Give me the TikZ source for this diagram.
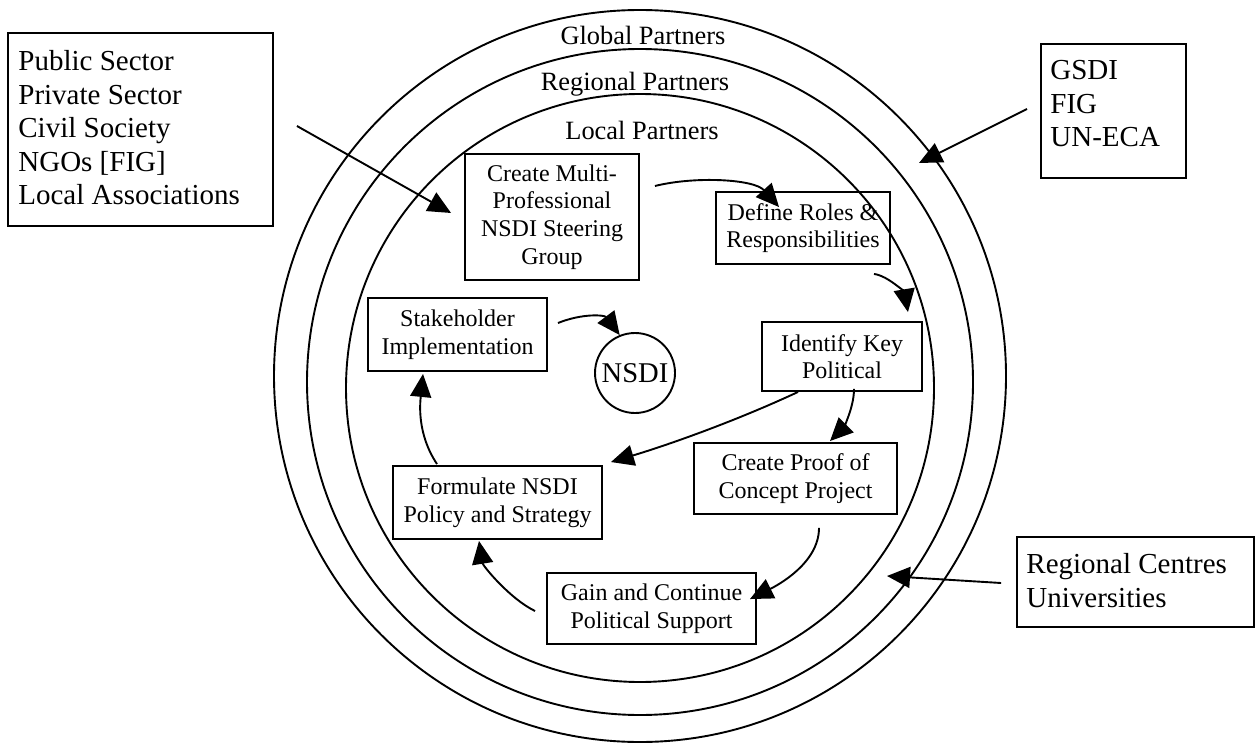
\documentclass[tikz,border=0pt]{standalone}
\usepackage{fontspec}
\setmainfont{Liberation Serif}
\usetikzlibrary{arrows.meta}
\newcommand\fbig{\fontsize{14.5pt}{16.75pt}\selectfont}
\newcommand\fsmall{\fontsize{12pt}{13.8pt}\selectfont}
\newcommand\fmid{\fontsize{13.2pt}{15pt}\selectfont}
\newcommand\fnsdi{\fontsize{14.3pt}{16pt}\selectfont}
\begin{document}
\begin{tikzpicture}[x=0.5pt,y=-0.5pt,
  every node/.style={inner sep=0pt},
  ring/.style={line width=0.95pt},
  frame/.style={draw, line width=0.95pt, rectangle},
  stepbox/.style={draw, line width=0.95pt, rectangle, align=center, font=\fsmall},
  link/.style={line width=0.95pt, -{Triangle[length=11.5pt,width=10.5pt]}},
  listtext/.style={align=left, font=\fbig, anchor=north west},
  ringlabel/.style={font=\fmid}]
\fill[white] (0,0) rectangle (1256,743);
\useasboundingbox (0,0) rectangle (1256,743);

% partner rings
\draw[ring] (640,376) circle[radius=183pt];
\draw[ring] (640,382) circle[radius=166.5pt];
\draw[ring] (640,388) circle[radius=147pt];
\node[ringlabel] (glob) at (643,35) {Global Partners};
\node[ringlabel] (reg) at (635,84) {Regional Partners};
\node[ringlabel] (loc) at (642,130) {Local Partners};

% process steps
\node[stepbox, minimum width=87pt, minimum height=63pt] (create) at (552,217) {Create Multi-\\Professional\\NSDI Steering\\Group};
\node[stepbox, minimum width=87pt, minimum height=36pt] (define) at (803,228) {Define Roles \&\\Responsibilities};
\node[stepbox, minimum width=80pt, minimum height=34.5pt] (identify) at (842,356.5) {Identify Key\\Political};
\node[stepbox, minimum width=101.5pt, minimum height=35.5pt] (proof) at (795.5,478.5) {Create Proof of\\Concept Project};
\node[stepbox, minimum width=89.5pt, minimum height=36.5pt] (stake) at (457.5,334.5) {Stakeholder\\Implementation};
\node[circle, draw, line width=0.95pt, minimum size=40pt, font=\fnsdi] (nsdi) at (635,373) {NSDI};
\node[stepbox, minimum width=104.5pt, minimum height=36.5pt] (formulate) at (497.5,502.5) {Formulate NSDI\\Policy and Strategy};
\node[stepbox, minimum width=104.5pt, minimum height=35.5pt] (gain) at (651.5,608.5) {Gain and Continue\\Political Support};

% partner lists
\node[frame, minimum width=132.5pt, minimum height=96.5pt] (sectors) at (140.5,129.5) {};
\node[listtext] (sectorstext) at (18,50) {Public Sector\\Private Sector\\Civil Society\\NGOs [FIG]\\Local Associations};
\node[frame, minimum width=72.5pt, minimum height=67pt] (gsdi) at (1113.5,111) {};
\node[listtext] (gsditext) at (1050,60) {GSDI\\FIG\\UN-ECA};
\node[frame, minimum width=118.5pt, minimum height=45pt] (centres) at (1135.5,582) {};
\node[listtext] (centrestext) at (1026,553) {Regional Centres\\Universities};

\coordinate (gtip) at (919,163);
\coordinate (rtip) at (887,576);

% partner arrows
\draw[link] ([xshift=11.5pt,yshift=1.75pt]sectors.east) -- ([xshift=-6.5pt,yshift=2pt]create.west);
\draw[link] ([xshift=-6.5pt,yshift=1pt]gsdi.west) -- (gtip);
\draw[link] ([xshift=-7.5pt,yshift=-0.5pt]centres.west) -- (rtip);

% process cycle
\draw[link] ([xshift=7.5pt,yshift=15.5pt]create.east) .. controls +(40,-10) and +(-25,-28) .. ([xshift=-12pt,yshift=-8pt]define.north);
\draw[link] ([xshift=-8.5pt,yshift=-4.5pt]define.south east) .. controls +(15,2) and +(-3,-18) .. ([xshift=-7.5pt,yshift=4.5pt]identify.north east);
\draw[link] ([xshift=6pt,yshift=1.5pt]identify.south) .. controls +(0,20) and +(12,-12) .. ([xshift=17.25pt,yshift=0.5pt]proof.north);
\draw[link] ([xshift=18.5pt]identify.south west) .. controls +(-60,28) and +(60,-18) .. ([xshift=4pt,yshift=1.5pt]formulate.north east);
\draw[link] ([xshift=11.75pt,yshift=-6.5pt]proof.south) .. controls +(0,35) and +(28,-14) .. ([xshift=-3.5pt,yshift=-13.5pt]gain.north east);
\draw[link] ([xshift=-5.5pt,yshift=-1.25pt]gain.west) .. controls +(-25,-12) and +(4,25) .. ([xshift=-9.25pt,yshift=-0.5pt]formulate.south);
\draw[link] ([xshift=-30.25pt,yshift=0.5pt]formulate.north) .. controls +(-20,-30) and +(-3,30) .. ([xshift=-17.25pt,yshift=-1pt]stake.south);
\draw[link] ([xshift=5pt,yshift=5.75pt]stake.east) .. controls +(25,-10) and +(-15,-20) .. (nsdi.112);
\end{tikzpicture}
\end{document}
